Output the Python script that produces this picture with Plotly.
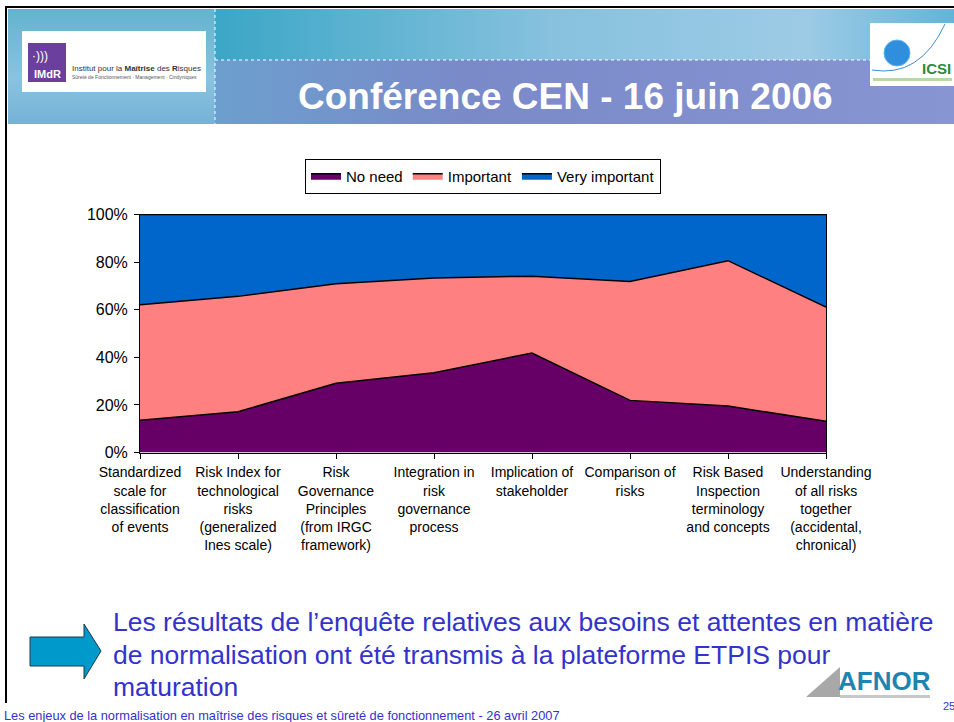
import base64
import plotly.graph_objects as go

W, H = 954, 722

# ---------------- data ----------------
categories = [
    "Standardized<br>scale for<br>classification<br>of events",
    "Risk Index for<br>technological<br>risks<br>(generalized<br>Ines scale)",
    "Risk<br>Governance<br>Principles<br>(from IRGC<br>framework)",
    "Integration in<br>risk<br>governance<br>process",
    "Implication of<br>stakeholder",
    "Comparison of<br>risks",
    "Risk Based<br>Inspection<br>terminology<br>and concepts",
    "Understanding<br>of all risks<br>together<br>(accidental,<br>chronical)",
]
no_need = [13.6, 17.1, 29.1, 33.5, 41.8, 21.9, 19.5, 13.1]
important = [48.5, 48.5, 41.8, 39.8, 32.3, 50.0, 61.1, 48.0]
very_important = [37.9, 34.4, 29.1, 26.7, 25.9, 28.1, 19.4, 38.9]
series_names = ["No need", "Important", "Very important"]
series_colors = ["#660066", "#FF8080", "#0066CC"]
y_ticks = [0, 20, 40, 60, 80, 100]
y_tick_labels = ["0%", "20%", "40%", "60%", "80%", "100%"]

FONT = "Arial, Liberation Sans, sans-serif"


def px(x):
    return x / W


def py(y):
    return 1 - y / H


xs = list(range(len(categories)))
fig = go.Figure()
for name, vals, col in zip(series_names, [no_need, important, very_important], series_colors):
    fig.add_trace(go.Scatter(
        x=xs, y=vals, name=name, stackgroup="one", mode="lines",
        line=dict(color="black", width=1.5), fillcolor=col,
    ))

# ---------------- header background (svg gradient image) ----------------
svg = """<svg xmlns='http://www.w3.org/2000/svg' width='946' height='115' viewBox='0 0 946 115' preserveAspectRatio='none'>
<defs>
<linearGradient id='t' x1='0' y1='0' x2='1' y2='0'>
<stop offset='0' stop-color='#3ba6c6'/><stop offset='0.45' stop-color='#86c1de'/><stop offset='0.8' stop-color='#9dcbe5'/><stop offset='1' stop-color='#62b4d8'/>
</linearGradient>
<linearGradient id='b' x1='0' y1='0' x2='1' y2='0'>
<stop offset='0' stop-color='#6c9fce'/><stop offset='0.35' stop-color='#7a89c8'/><stop offset='1' stop-color='#8895d3'/>
</linearGradient>
<linearGradient id='l' x1='0' y1='0' x2='0' y2='1'>
<stop offset='0' stop-color='#63b3cf'/><stop offset='0.6' stop-color='#8ac3df'/><stop offset='1' stop-color='#74b2d6'/>
</linearGradient>
</defs>
<rect x='207' y='0' width='739' height='51' fill='url(#t)'/>
<rect x='207' y='51' width='739' height='64' fill='url(#b)'/>
<rect x='0' y='0' width='207' height='115' fill='url(#l)'/>
</svg>"""
src = "data:image/svg+xml;base64," + base64.b64encode(svg.encode()).decode()

images = [dict(source=src, xref="paper", yref="paper", x=px(8), y=py(9),
               sizex=946 / W, sizey=115 / H, xanchor="left", yanchor="top",
               sizing="stretch", layer="below")]

shapes = []
# slide border
shapes.append(dict(type="line", xref="paper", yref="paper", x0=px(5), x1=1, y0=py(7), y1=py(7),
                   line=dict(color="black", width=2)))
shapes.append(dict(type="line", xref="paper", yref="paper", x0=px(6), x1=px(6), y0=py(7), y1=py(703),
                   line=dict(color="black", width=2)))
# dotted lines in header
shapes.append(dict(type="line", xref="paper", yref="paper", x0=px(215), x1=1, y0=py(60), y1=py(60),
                   line=dict(color="white", width=1, dash="dot")))
shapes.append(dict(type="line", xref="paper", yref="paper", x0=px(215), x1=px(215), y0=py(9), y1=py(124),
                   line=dict(color="white", width=1, dash="dot")))
# IMdR logo
shapes.append(dict(type="rect", xref="paper", yref="paper", x0=px(22), x1=px(206), y0=py(92), y1=py(31),
                   fillcolor="white", line=dict(width=0)))
shapes.append(dict(type="rect", xref="paper", yref="paper", x0=px(28), x1=px(66), y0=py(82), y1=py(43),
                   fillcolor="#6b3f9e", line=dict(width=0)))
# ICSI logo
shapes.append(dict(type="rect", xref="paper", yref="paper", x0=px(870), x1=1, y0=py(86), y1=py(23),
                   fillcolor="white", line=dict(width=0)))
shapes.append(dict(type="circle", xref="paper", yref="paper", x0=px(884), x1=px(910), y0=py(66), y1=py(40),
                   fillcolor="#2f8fdc", line=dict(color="#5db3ee", width=1)))
shapes.append(dict(type="path", xref="paper", yref="paper",
                   path=f"M {px(872)},{py(70)} Q {px(920)},{py(78)} {px(945)},{py(24)}",
                   line=dict(color="#3a8fd0", width=1)))
shapes.append(dict(type="rect", xref="paper", yref="paper", x0=px(873), x1=px(952), y0=py(81), y1=py(78),
                   fillcolor="#b9d8a8", line=dict(width=0)))
# arrow
ax = [30, 84, 84, 101, 84, 84, 30]
ay = [637, 637, 624, 651, 679, 666, 666]
path = "M " + " L ".join(f"{px(a)},{py(b)}" for a, b in zip(ax, ay)) + " Z"
shapes.append(dict(type="path", xref="paper", yref="paper", path=path,
                   fillcolor="#0099CC", line=dict(color="#1b3a4a", width=1)))
# AFNOR logo
shapes.append(dict(type="path", xref="paper", yref="paper",
                   path=f"M {px(806)},{py(697)} L {px(840)},{py(667)} L {px(840)},{py(697)} Z",
                   fillcolor="#a8a8a8", line=dict(width=0)))
shapes.append(dict(type="rect", xref="paper", yref="paper", x0=px(840), x1=px(930), y0=py(698), y1=py(695),
                   fillcolor="#c8c8c8", line=dict(width=0)))

body_lines = [
    "Les résultats de l’enquête relatives aux besoins et attentes en matière",
    "de normalisation ont été transmis à la plateforme ETPIS pour",
    "maturation",
]
body_y = [622, 655, 687]

annotations = [
    dict(text="Conférence CEN - 16 juin 2006", x=px(565), y=py(97), xref="paper", yref="paper",
         showarrow=False, font=dict(family=FONT, size=37, color="white", weight="bold"),
         xanchor="center", yanchor="middle"),
    dict(text="<b>IMdR</b>", x=px(47), y=py(74), xref="paper", yref="paper", showarrow=False,
         font=dict(family=FONT, size=11, color="white"), xanchor="center", yanchor="middle"),
    dict(text="·)))", x=px(40), y=py(56), xref="paper", yref="paper", showarrow=False,
         font=dict(family=FONT, size=12, color="white"), xanchor="center", yanchor="middle"),
    dict(text="Institut pour la <b>Maîtrise</b> des <b>R</b>isques", x=px(70), y=py(69), xref="paper",
         yref="paper", showarrow=False, font=dict(family=FONT, size=8, color="#333333"),
         xanchor="left", yanchor="middle"),
    dict(text="Sûreté de Fonctionnement · Management · Cindyniques", x=px(70), y=py(77), xref="paper",
         yref="paper", showarrow=False, font=dict(family=FONT, size=5, color="#555555"),
         xanchor="left", yanchor="middle"),
    dict(text="<b>ICSI</b>", x=px(953), y=py(69), xref="paper", yref="paper", showarrow=False,
         font=dict(family=FONT, size=15, color="#2e8b3a"), xanchor="right", yanchor="middle"),
    dict(text="AFNOR", x=px(884), y=py(681), xref="paper", yref="paper", showarrow=False,
         font=dict(family=FONT, size=26, color="#1f84b0", weight="bold"), xanchor="center", yanchor="middle"),
    dict(text="Les enjeux de la normalisation en maîtrise des risques et sûreté de fonctionnement - 26 avril 2007",
         x=px(2), y=py(715), xref="paper", yref="paper", showarrow=False,
         font=dict(family=FONT, size=12.8, color="#3333CC"), xanchor="left", yanchor="middle"),
    dict(text="25", x=px(941), y=py(706), xref="paper", yref="paper", showarrow=False,
         font=dict(family=FONT, size=11, color="#3333CC"), xanchor="left", yanchor="middle"),
]
for line, yy in zip(body_lines, body_y):
    annotations.append(dict(text=line, x=px(111), y=py(yy), xref="paper", yref="paper", showarrow=False,
                            font=dict(family=FONT, size=26.5, color="#3333CC"),
                            xanchor="left", yanchor="middle"))

fig.update_layout(
    width=W, height=H,
    margin=dict(l=0, r=0, t=0, b=0, pad=0, autoexpand=False),
    paper_bgcolor="white", plot_bgcolor="white",
    font=dict(family=FONT, color="black"),
    showlegend=True,
    legend=dict(orientation="h", x=px(483), y=py(176), xanchor="center", yanchor="middle",
                bgcolor="white", bordercolor="black", borderwidth=1, traceorder="normal",
                font=dict(family=FONT, size=15, color="black"), itemwidth=30,
                itemclick=False),
    xaxis=dict(domain=[px(140), px(826)], range=[0, len(categories) - 1], tickvals=xs,
               ticktext=categories, ticks="outside", ticklen=5, tickcolor="black",
               showline=True, linecolor="black", linewidth=1, mirror=True, showgrid=False,
               zeroline=False, tickfont=dict(family=FONT, size=14, color="black"), tickangle=0,
               automargin=False, ticklabelstandoff=2),
    yaxis=dict(domain=[py(452.5), py(214.5)], range=[0, 100], tickvals=y_ticks, ticktext=y_tick_labels,
               ticks="outside", ticklen=5, tickcolor="black", showline=True, linecolor="black",
               linewidth=1, mirror=True, showgrid=False, zeroline=False,
               tickfont=dict(family=FONT, size=16, color="black"), automargin=False,
               ticklabelstandoff=3),
    images=images, shapes=shapes, annotations=annotations,
)

fig.write_html("out.html", post_script="document.body.style.margin='0';",
               config={"displayModeBar": False})
